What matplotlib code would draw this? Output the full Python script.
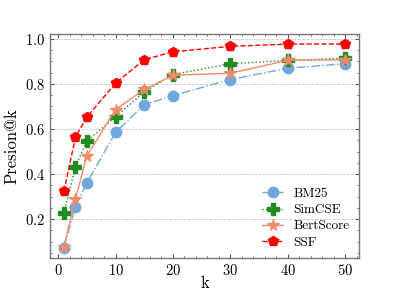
import matplotlib
matplotlib.use("Agg")
import matplotlib.pyplot as plt
from matplotlib.ticker import MultipleLocator

# data
k = [1, 3, 5, 10, 15, 20, 30, 40, 50]
bm25 = [0.074, 0.256, 0.360, 0.585, 0.707, 0.748, 0.819, 0.869, 0.889]
simcse = [0.227, 0.431, 0.548, 0.653, 0.764, 0.841, 0.889, 0.904, 0.914]
bertscore = [0.078, 0.290, 0.481, 0.686, 0.775, 0.838, 0.847, 0.904, 0.907]
ssf = [0.323, 0.563, 0.653, 0.803, 0.907, 0.942, 0.966, 0.976, 0.976]

plt.rcParams['font.family'] = ['cmr10', 'DejaVu Serif']
plt.rcParams['axes.formatter.use_mathtext'] = True
plt.rcParams['mathtext.fontset'] = 'cm'

fig = plt.figure(figsize=(3.99, 2.9), dpi=100)
ax = fig.add_axes([0.125, 0.111, 0.775, 0.772])

ax.plot(k, bm25, '-.', color='#6fa8dc', marker='o', markersize=7.5, linewidth=1, label='BM25')
ax.plot(k, simcse, ':', color='#228b22', marker='P', markersize=8, linewidth=1, label='SimCSE')
ax.plot(k, bertscore, '-', color='#f08c6c', marker='*', markersize=8.5, linewidth=1, label='BertScore')
ax.plot(k, ssf, '--', color='#ff0000', marker='p', markersize=7.5, linewidth=1, label='SSF')

# axes and ticks
ax.set_xlabel('k', fontsize=12, labelpad=-1.5)
ax.set_ylabel('Presion@k', fontsize=12, labelpad=4)
ax.xaxis.set_major_locator(MultipleLocator(10))
ax.xaxis.set_minor_locator(MultipleLocator(2))
ax.yaxis.set_major_locator(MultipleLocator(0.2))
ax.yaxis.set_minor_locator(MultipleLocator(0.05))
ax.tick_params(which='both', direction='in', top=True, right=True, labelsize=10.5, color='#555555')
ax.tick_params(which='major', length=3)
ax.tick_params(which='minor', length=1.5)
for s in ax.spines.values():
    s.set_color('#777777')
    s.set_linewidth(1)
ax.grid(axis='y', linestyle='--', color='#c8c8c8', linewidth=0.6)
ax.set_axisbelow(True)

ax.legend(loc='lower right', frameon=False, fontsize=9.5, labelspacing=0.3,
          handlelength=1.6, handletextpad=0.8, borderaxespad=0.3)

plt.savefig('out.png', dpi=100)
